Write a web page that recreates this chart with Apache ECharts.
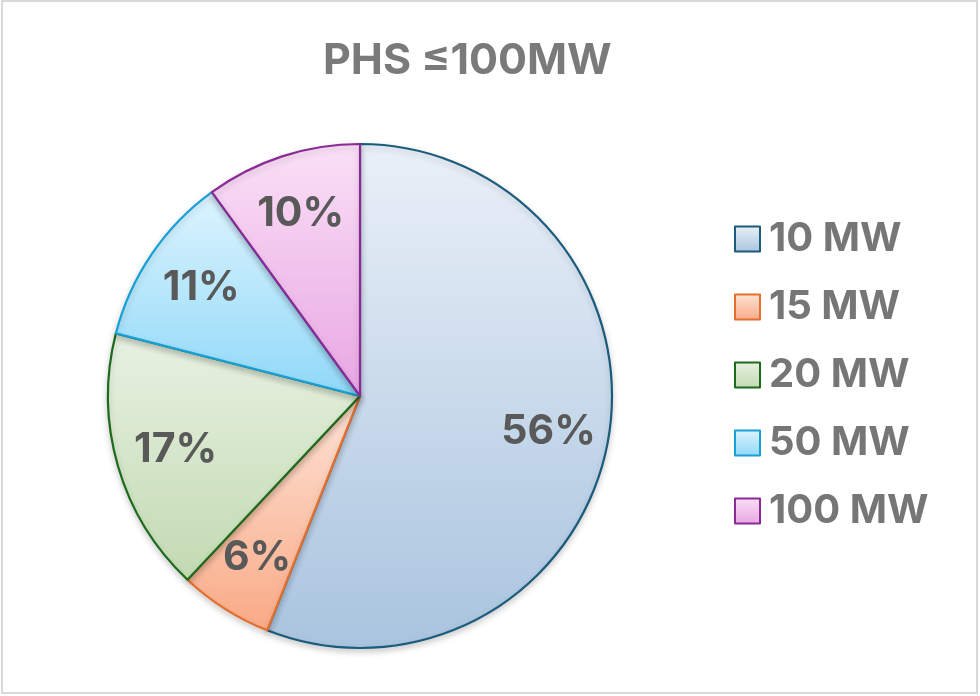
<!DOCTYPE html>
<html>
<head>
<meta charset="utf-8">
<script src="https://cdn.jsdelivr.net/npm/echarts@6/dist/echarts.min.js"></script>
<style>
html,body{margin:0;padding:0;background:#fff;}
#main{width:980px;height:696px;}
</style>
</head>
<body>
<div id="main"></div>
<script>
// ---- data ----
const titleText = 'PHS ≤100MW';
const categories = ['10 MW', '15 MW', '20 MW', '50 MW', '100 MW'];
const shares = [56, 6, 17, 11, 10];

// ---- styles ----
const topColors    = ['#eaf0f8', '#fde3d6', '#e8f1e2', '#ddf4fe', '#fae0f6'];
const bottomColors = ['#a9c4df', '#f9aa86', '#c2dab2', '#8fd8f8', '#e8a6e3'];
const borderColors = ['#1b5b7c', '#e46f2c', '#1c6a1c', '#16a0d6', '#8a2a96'];

function grad(i) {
  return new echarts.graphic.LinearGradient(0, 0, 0, 1, [
    { offset: 0, color: topColors[i] },
    { offset: 1, color: bottomColors[i] }
  ]);
}

const chart = echarts.init(document.getElementById('main'), null, { renderer: 'canvas' });
const FONT = 'Inter, "Noto Sans", sans-serif';
const R = 252;
const center = [360, 396];

const mainData = categories.map((n, i) => ({
  name: n,
  value: shares[i],
  itemStyle: {
    color: grad(i),
    borderColor: borderColors[i],
    borderWidth: 2.2
  }
}));
const labelData = categories.map((n, i) => ({ name: n, value: shares[i] }));

chart.setOption({
  animation: false,
  backgroundColor: '#ffffff',
  title: {
    text: titleText,
    left: 318,
    top: 35,
    textStyle: { fontFamily: FONT, fontSize: 43, fontWeight: 'bold', color: '#7a7a7a' }
  },
  legend: {
    orient: 'vertical',
    left: 729,
    top: 214,
    itemWidth: 25,
    itemHeight: 25,
    itemGap: 28,
    icon: 'rect',
    data: categories,
    textStyle: { fontFamily: FONT, fontSize: 40, fontWeight: 'bold', color: '#767676', padding: [0, 0, 0, 4] },
    selectedMode: false
  },
  series: [
    {
      type: 'pie',
      name: 'main',
      center: center,
      radius: [0, R],
      startAngle: 90,
      clockwise: true,
      label: { show: false },
      labelLine: { show: false },
      emphasis: { disabled: true },
      itemStyle: { shadowBlur: 6, shadowOffsetY: 3, shadowColor: 'rgba(0,0,0,0.18)' },
      data: mainData
    },
    {
      type: 'pie',
      name: 'labels',
      center: center,
      radius: [R * 0.5, R],
      startAngle: 90,
      clockwise: true,
      silent: true,
      legendHoverLink: false,
      itemStyle: { color: 'rgba(0,0,0,0)', borderWidth: 0 },
      label: {
        show: true,
        position: 'inside',
        formatter: p => p.value + '%',
        fontFamily: FONT,
        fontSize: 41,
        fontWeight: 'bold',
        color: '#595959'
      },
      labelLine: { show: false },
      emphasis: { disabled: true },
      data: labelData
    }
  ],
  graphic: [
    {
      type: 'rect',
      shape: { x: 2, y: 1, width: 975, height: 692 },
      style: { fill: 'none', stroke: '#d9d9d9', lineWidth: 2 },
      silent: true,
      z: 100
    }
  ]
});
</script>
</body>
</html>
